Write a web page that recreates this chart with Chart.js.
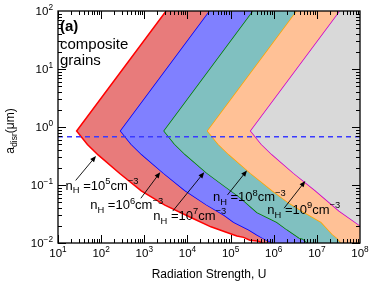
<!DOCTYPE html>
<html>
<head>
<meta charset="utf-8">
<script src="https://cdn.jsdelivr.net/npm/chart.js@4.4.1/dist/chart.umd.min.js"></script>
<style>
html, body { margin: 0; padding: 0; background: #fff; }
#wrap { width: 374px; height: 287px; }
</style>
</head>
<body>
<div id="wrap"><canvas id="myChart"></canvas></div>
<script>
var FONT = '"Liberation Sans", Arial, sans-serif';

// radiation strength U / disruption size a (um), each curve listed from bottom to top
var uRed = [5.6e5, 4.2e5, 2.8e5, 2.0e5, 1.4e5, 7.1e4, 3.5e4, 1.2e4, 3.0e3, 850, 270, 85, 48, 27, 3.2e3];
var aRed = [0.01, 0.0108, 0.0112, 0.0125, 0.0132, 0.0158, 0.019, 0.0275, 0.045, 0.079, 0.158, 0.33, 0.5, 0.85, 100];

var uBlue = [8.9e5, 7.1e5, 5.5e5, 4.0e5, 2.6e5, 1.15e5, 6.9e4, 2.7e4, 8.5e3, 2.7e3, 850, 480, 270, 3.16e4];
var aBlue = [0.01, 0.0107, 0.0118, 0.0135, 0.0165, 0.0224, 0.0295, 0.0447, 0.079, 0.158, 0.33, 0.5, 0.85, 100];

var uGreen = [5.75e6, 4.6e6, 3.8e6, 2.0e6, 1.15e6, 4.0e5, 1.6e5, 6.9e4, 2.75e4, 8.7e3, 4.9e3, 2.75e3, 3.2e5];
var aGreen = [0.01, 0.0115, 0.012, 0.0166, 0.0224, 0.033, 0.06, 0.095, 0.158, 0.33, 0.5, 0.85, 100];

var uOrange = [3.5e7, 2.9e7, 2.2e7, 1.23e7, 5.0e6, 2.2e6, 8.9e5, 2.8e5, 8.9e4, 5.0e4, 2.8e4, 3.3e6];
var aOrange = [0.01, 0.0118, 0.014, 0.0224, 0.033, 0.048, 0.079, 0.158, 0.33, 0.5, 0.85, 100];

var uMag = [2.0e8, 9.3e7, 3.2e7, 8.9e6, 2.8e6, 8.9e5, 5.0e5, 2.8e5, 3.3e7];
var aMag = [0.01, 0.02, 0.035, 0.079, 0.158, 0.33, 0.5, 0.85, 100];

// right-hand limit of the grey region
var uEdge = [1e9, 1e9];
var aEdge = [0.01, 100];

var uDash = [10, 1e8];
var aDash = [0.68, 0.68];

var densities = ['5', '6', '7', '8', '9'];
// arrow start / end (U, a) and label anchor (U, a)
var arrowFrom = [[25.7, 0.12], [832, 0.059], [4570, 0.0355], [8.5e4, 0.0676], [1.74e6, 0.0398]];
var arrowTo = [[76, 0.316], [2340, 0.166], [2.45e4, 0.166], [2.4e5, 0.178], [5.4e6, 0.117]];
var labelAt = [[15, 0.083], [56, 0.038], [1620, 0.025], [3.9e4, 0.052], [7.1e5, 0.0316]];

var xTickExp = ['1', '2', '3', '4', '5', '6', '7', '8'];
var yTickExp = ['\u22122', '\u22121', '0', '1', '2'];

function pts(us, as) {
    return us.map(function (u, i) { return { x: u, y: as[i] }; });
}

function richText(ctx, x, y, parts, size, align) {
    var w = 0;
    parts.forEach(function (p) {
        ctx.font = (p[1] ? size * 0.72 : size) + 'px ' + FONT;
        w += ctx.measureText(p[0]).width;
    });
    var cx = align == 'center' ? x - w / 2 : (align == 'right' ? x - w : x);
    ctx.textAlign = 'left';
    ctx.textBaseline = 'alphabetic';
    parts.forEach(function (p) {
        ctx.font = (p[1] ? size * 0.72 : size) + 'px ' + FONT;
        var dy = p[1] == 'sup' ? -size * 0.45 : (p[1] == 'sub' ? size * 0.28 : 0);
        ctx.fillText(p[0], cx, y + dy);
        cx += ctx.measureText(p[0]).width;
    });
}

var deco = {
    id: 'deco',
    afterDatasetsDraw: function (chart) {
        var ctx = chart.ctx, xs = chart.scales.x, ys = chart.scales.y;
        ctx.save();
        ctx.strokeStyle = '#000';
        ctx.fillStyle = '#000';
        ctx.lineWidth = 0.9;
        for (var i = 0; i < densities.length; i++) {
            var x0 = xs.getPixelForValue(arrowFrom[i][0]), y0 = ys.getPixelForValue(arrowFrom[i][1]);
            var x1 = xs.getPixelForValue(arrowTo[i][0]), y1 = ys.getPixelForValue(arrowTo[i][1]);
            var ang = Math.atan2(y1 - y0, x1 - x0);
            ctx.beginPath();
            ctx.moveTo(x0, y0);
            ctx.lineTo(x1 - 4 * Math.cos(ang), y1 - 4 * Math.sin(ang));
            ctx.stroke();
            ctx.beginPath();
            ctx.moveTo(x1, y1);
            ctx.lineTo(x1 - 6 * Math.cos(ang) + 2.5 * Math.sin(ang), y1 - 6 * Math.sin(ang) - 2.5 * Math.cos(ang));
            ctx.lineTo(x1 - 6 * Math.cos(ang) - 2.5 * Math.sin(ang), y1 - 6 * Math.sin(ang) + 2.5 * Math.cos(ang));
            ctx.closePath();
            ctx.fill();

            var lx = xs.getPixelForValue(labelAt[i][0]), ly = ys.getPixelForValue(labelAt[i][1]);
            richText(ctx, lx, ly, [['n', ''], ['H', 'sub'], [' =10', ''], [densities[i], 'sup'], ['cm', ''], ['\u22123', 'sup']], 13, 'left');
        }
        ctx.restore();
    },
    afterDraw: function (chart) {
        var ctx = chart.ctx, xs = chart.scales.x, ys = chart.scales.y, a = chart.chartArea;
        ctx.save();
        ctx.strokeStyle = '#000';
        ctx.fillStyle = '#000';
        ctx.lineWidth = 1;
        // inward ticks on all four sides
        ctx.beginPath();
        for (var e = 1; e < 8; e++) {
            for (var k = 1; k <= 9; k++) {
                var px = Math.round(xs.getPixelForValue(k * Math.pow(10, e))) + 0.5;
                var len = k == 1 ? 8 : 4;
                ctx.moveTo(px, a.bottom); ctx.lineTo(px, a.bottom - len);
                ctx.moveTo(px, a.top); ctx.lineTo(px, a.top + len);
            }
        }
        for (var e2 = -2; e2 < 2; e2++) {
            for (var k2 = 1; k2 <= 9; k2++) {
                var py = Math.round(ys.getPixelForValue(k2 * Math.pow(10, e2))) + 0.5;
                var len2 = k2 == 1 ? 8 : 4;
                ctx.moveTo(a.left, py); ctx.lineTo(a.left + len2, py);
                ctx.moveTo(a.right, py); ctx.lineTo(a.right - len2, py);
            }
        }
        ctx.stroke();
        ctx.lineWidth = 1.3;
        ctx.strokeRect(a.left, a.top, a.right - a.left, a.bottom - a.top);

        // tick labels
        xTickExp.forEach(function (ex) {
            var px = xs.getPixelForValue(Math.pow(10, Number(ex)));
            richText(ctx, px, a.bottom + 14, [['10', ''], [ex, 'sup']], 11.5, 'center');
        });
        yTickExp.forEach(function (ex) {
            var py = ys.getPixelForValue(Math.pow(10, Number(ex.replace('\u2212', '-'))));
            richText(ctx, a.left - 5, py + 4, [['10', ''], [ex, 'sup']], 11.5, 'right');
        });

        // axis titles
        richText(ctx, (a.left + a.right) / 2, 278, [['Radiation Strength, U', '']], 12, 'center');
        ctx.save();
        ctx.translate(14, 131);
        ctx.rotate(-Math.PI / 2);
        richText(ctx, 0, 0, [['a', ''], ['disr', 'sub'], ['(\u03bcm)', '']], 12, 'center');
        ctx.restore();

        // panel text
        ctx.font = 'bold 15px ' + FONT;
        ctx.textAlign = 'left';
        ctx.fillText('(a)', 60, 31);
        ctx.font = '15px ' + FONT;
        ctx.fillText('composite', 60, 49);
        ctx.fillText('grains', 60, 65);
        ctx.restore();
    }
};

function curve(us, as, line, fillColor, fill) {
    return {
        data: pts(us, as),
        borderColor: line,
        backgroundColor: fillColor,
        fill: fill,
        borderWidth: 1.5,
        pointRadius: 0
    };
}

var datasets = [
    curve(uRed, aRed, '#ff0000', '#e87b7b', '+1'),
    curve(uBlue, aBlue, '#0000ff', '#8080ff', '+1'),
    curve(uGreen, aGreen, '#008000', '#80c0c0', '+1'),
    curve(uOrange, aOrange, '#ffa500', '#ffc196', '+1'),
    curve(uMag, aMag, '#cc00cc', '#d9d9d9', '+1'),
    curve(uEdge, aEdge, 'rgba(0,0,0,0)', 'rgba(0,0,0,0)', false),
    {
        data: pts(uDash, aDash),
        borderColor: '#3a3aff',
        borderWidth: 1.5,
        borderDash: [5, 4],
        fill: false,
        pointRadius: 0,
        order: -1
    }
];

var ctx = document.getElementById('myChart').getContext('2d');

var myChart = new Chart(ctx, {
    type: 'line',
    data: { datasets: datasets },
    options: {
        indexAxis: 'y',
        animation: false,
        responsive: true,
        maintainAspectRatio: false,
        layout: { padding: { left: 50, right: 14, top: 11, bottom: 36 } },
        plugins: { legend: { display: false }, tooltip: { enabled: false } },
        scales: {
            x: {
                type: 'logarithmic', min: 10, max: 1e8,
                ticks: { display: false }, grid: { display: false }, border: { display: false }
            },
            y: {
                type: 'logarithmic', min: 0.01, max: 100,
                ticks: { display: false }, grid: { display: false }, border: { display: false }
            }
        }
    },
    plugins: [deco]
});
</script>
</body>
</html>
